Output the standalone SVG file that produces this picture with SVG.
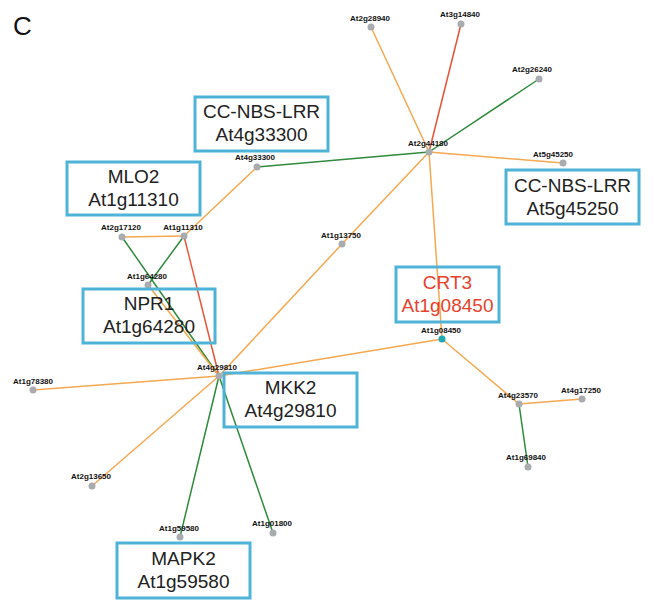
<svg xmlns="http://www.w3.org/2000/svg" width="654" height="613" viewBox="0 0 654 613">
<style>
.e{stroke-width:1.5;fill:none}
.o{stroke:#f6a850}
.g{stroke:#2f8a3c}
.r{stroke:#e8553c}
.d{fill:#a8acae}
.t{fill:#1faab8}
.l{font-family:"Liberation Sans",Arial,sans-serif;font-size:8px;font-weight:bold;fill:#111;text-anchor:middle}
.b{fill:none;stroke:#4fb3d8;stroke-width:3}
.bt{font-family:"Liberation Sans",Arial,sans-serif;font-size:19px;fill:#222;text-anchor:middle}
.red{fill:#e8412c}
</style>
<rect width="654" height="613" fill="#fff"/>
<text x="13" y="35" font-family="Liberation Sans,Arial,sans-serif" font-size="26" fill="#111">C</text>
<g id="edges">
<line class="e o" x1="429" y1="152" x2="371" y2="27"/>
<line class="e r" x1="429" y1="152" x2="461" y2="24"/>
<line class="e g" x1="429" y1="152" x2="539" y2="79"/>
<line class="e o" x1="429" y1="152" x2="563" y2="163"/>
<line class="e g" x1="429" y1="152" x2="257" y2="167"/>
<line class="e o" x1="429" y1="152" x2="342" y2="244"/>
<line class="e o" x1="342" y1="244" x2="219" y2="376"/>
<line class="e o" x1="429" y1="152" x2="442" y2="339"/>
<line class="e o" x1="257" y1="167" x2="184" y2="236"/>
<line class="e o" x1="184" y1="236" x2="122" y2="237"/>
<line class="e g" x1="184" y1="236" x2="148" y2="285"/>
<line class="e g" x1="122" y1="237" x2="219" y2="376"/>
<line class="e r" x1="184" y1="236" x2="219" y2="376"/>
<line class="e o" x1="148" y1="285" x2="219" y2="376"/>
<line class="e o" x1="219" y1="376" x2="442" y2="339"/>
<line class="e o" x1="219" y1="376" x2="33" y2="390"/>
<line class="e o" x1="219" y1="376" x2="92" y2="486"/>
<line class="e g" x1="219" y1="376" x2="180" y2="537"/>
<line class="e g" x1="219" y1="376" x2="273" y2="533"/>
<line class="e o" x1="442" y1="339" x2="519" y2="404"/>
<line class="e o" x1="519" y1="404" x2="582" y2="399"/>
<line class="e g" x1="519" y1="404" x2="528" y2="467"/>
</g>
<g id="n-At2g28940"><circle class="d" cx="371" cy="27" r="3.5"/><text class="l" x="370" y="21">At2g28940</text></g>
<g id="n-At3g14840"><circle class="d" cx="461" cy="24" r="3.5"/><text class="l" x="460" y="17">At3g14840</text></g>
<g id="n-At2g26240"><circle class="d" cx="539" cy="79" r="3.5"/><text class="l" x="532" y="72">At2g26240</text></g>
<g id="n-At2g44180"><circle class="d" cx="429" cy="152" r="3.5"/><text class="l" x="428" y="146">At2g44180</text></g>
<g id="n-At5g45250"><circle class="d" cx="563" cy="163" r="3.5"/><text class="l" x="553" y="157">At5g45250</text></g>
<g id="n-At4g33300"><circle class="d" cx="257" cy="167" r="3.5"/><text class="l" x="255" y="160">At4g33300</text></g>
<g id="n-At1g11310"><circle class="d" cx="184" cy="236" r="3.5"/><text class="l" x="183" y="230">At1g11310</text></g>
<g id="n-At2g17120"><circle class="d" cx="122" cy="237" r="3.5"/><text class="l" x="121" y="230">At2g17120</text></g>
<g id="n-At1g64280"><circle class="d" cx="148" cy="285" r="3.5"/><text class="l" x="147" y="279">At1g64280</text></g>
<g id="n-At1g13750"><circle class="d" cx="342" cy="244" r="3.5"/><text class="l" x="341" y="238">At1g13750</text></g>
<g id="n-At4g29810"><circle class="d" cx="219" cy="376" r="3.5"/><text class="l" x="217" y="370">At4g29810</text></g>
<g id="n-At1g08450"><circle class="t" cx="442" cy="339" r="3.5"/><text class="l" x="441" y="333">At1g08450</text></g>
<g id="n-At4g23570"><circle class="d" cx="519" cy="404" r="3.5"/><text class="l" x="518" y="398">At4g23570</text></g>
<g id="n-At4g17250"><circle class="d" cx="582" cy="399" r="3.5"/><text class="l" x="581" y="393">At4g17250</text></g>
<g id="n-At1g69840"><circle class="d" cx="528" cy="467" r="3.5"/><text class="l" x="526" y="460">At1g69840</text></g>
<g id="n-At1g78380"><circle class="d" cx="33" cy="390" r="3.5"/><text class="l" x="33" y="384">At1g78380</text></g>
<g id="n-At2g13650"><circle class="d" cx="92" cy="486" r="3.5"/><text class="l" x="91" y="479">At2g13650</text></g>
<g id="n-At1g59580"><circle class="d" cx="180" cy="537" r="3.5"/><text class="l" x="179" y="531">At1g59580</text></g>
<g id="n-At1g01800"><circle class="d" cx="273" cy="533" r="3.5"/><text class="l" x="272" y="526">At1g01800</text></g>
<g id="box-At4g33300"><rect class="b" x="195" y="97" width="133" height="54"/><text class="bt" x="261.5" y="118">CC-NBS-LRR</text><text class="bt" x="261.5" y="141">At4g33300</text></g>
<g id="box-At1g11310"><rect class="b" x="67" y="162" width="133" height="53"/><text class="bt" x="133.5" y="183">MLO2</text><text class="bt" x="133.5" y="206">At1g11310</text></g>
<g id="box-At5g45250"><rect class="b" x="506" y="170" width="133" height="54"/><text class="bt" x="572.5" y="192">CC-NBS-LRR</text><text class="bt" x="572.5" y="215">At5g45250</text></g>
<g id="box-At1g08450"><rect class="b" x="396" y="267" width="103" height="55"/><text class="bt red" x="447.5" y="289">CRT3</text><text class="bt red" x="447.5" y="312">At1g08450</text></g>
<g id="box-At1g64280"><rect class="b" x="83" y="289" width="132" height="54"/><text class="bt" x="149" y="310">NPR1</text><text class="bt" x="149" y="333">At1g64280</text></g>
<g id="box-At4g29810"><rect class="b" x="224" y="373" width="133" height="54"/><text class="bt" x="290.5" y="394">MKK2</text><text class="bt" x="290.5" y="417">At4g29810</text></g>
<g id="box-At1g59580"><rect class="b" x="117" y="543" width="133" height="55"/><text class="bt" x="183.5" y="565">MAPK2</text><text class="bt" x="183.5" y="588">At1g59580</text></g>
</svg>
